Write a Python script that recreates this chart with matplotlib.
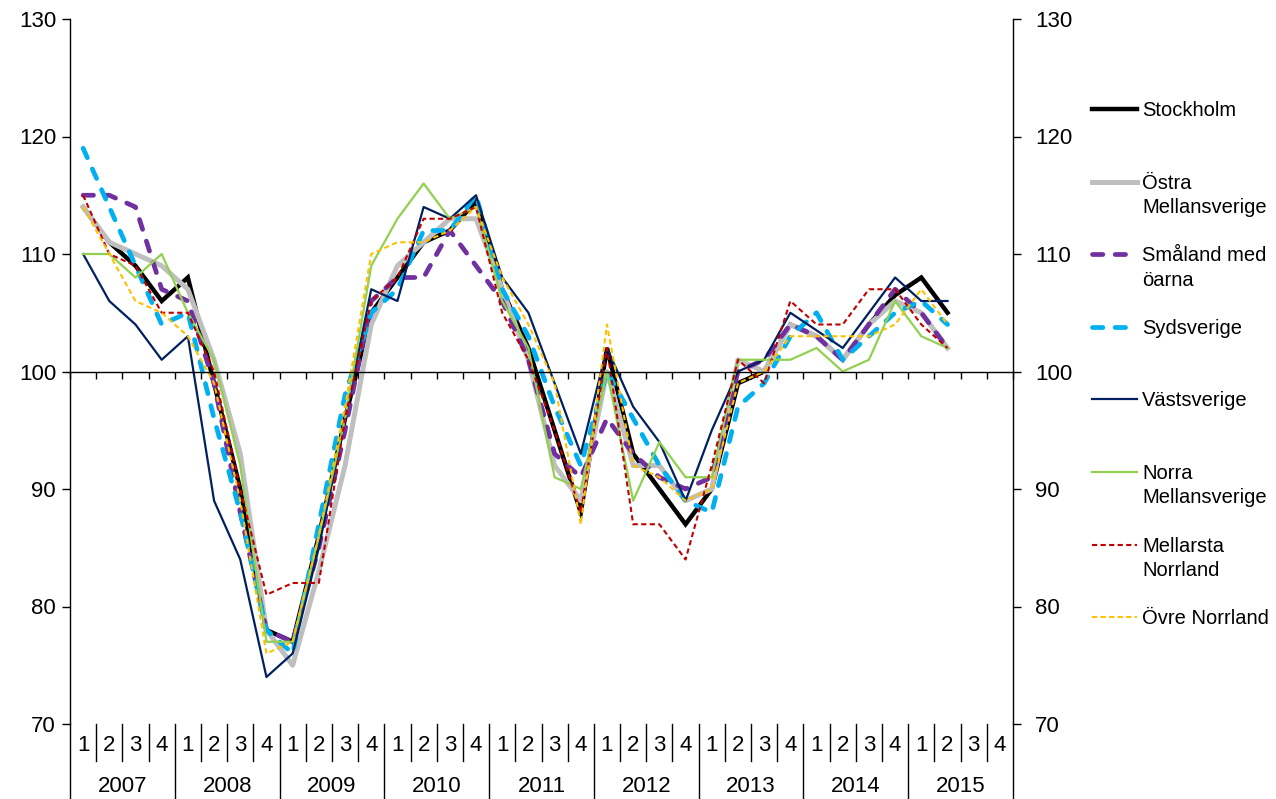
import matplotlib.pyplot as plt
from matplotlib.lines import Line2D
import numpy as np

plt.rcParams['font.family'] = ['Liberation Sans', 'DejaVu Sans']

years = ['2007', '2008', '2009', '2010', '2011', '2012', '2013', '2014', '2015']
quarters = ['1', '2', '3', '4']

stockholm = [114, 111, 109, 106, 108, 99, 90, 78, 77, 86, 96, 105,
             108, 111, 112, 114.5, 107, 102, 95, 88, 102, 93, 90, 87,
             90, 99, 100, 104, 103, 101, 104, 106.5, 108, 105]
ostra = [114, 111, 110, 109, 107, 101, 93, 78, 75, 83, 92, 104,
         109, 111, 113, 113, 107, 101, 92, 89, 100, 92, 92, 89,
         90, 101, 100, 104, 103, 101, 104, 106, 105, 102]
smaland = [115, 115, 114, 107, 106, 99, 88, 78, 77, 85, 95, 106,
           108, 108, 112, 109, 106, 101, 93, 91, 96, 93, 91, 90,
           91, 100, 101, 104, 103, 101, 104, 107, 105, 102]
syd = [119, 114, 109, 104, 105, 96, 88, 78, 76, 87, 98, 105,
       107, 112, 112, 115, 107, 103, 97, 92, 100, 96, 92, 89,
       88, 97, 99, 103, 105, 101, 103, 105, 106, 104]
vast = [110, 106, 104, 101, 103, 89, 84, 74, 76, 85, 96, 107,
        106, 114, 113, 115, 108, 105, 99, 93, 102, 97, 94, 89,
        95, 100, 101, 105, 103.5, 102, 105, 108, 106, 106]
norra = [110, 110, 108, 110, 105, 101, 92, 77, 77, 86, 96, 109,
         113, 116, 113, 114, 106, 102, 91, 90, 100, 89, 94, 91,
         91, 101, 101, 101, 102, 100, 101, 106, 103, 102]
mellersta = [115, 110, 109, 105, 105, 100, 90, 81, 82, 82, 96, 106,
             108, 113, 113, 114, 105, 101, 95, 88, 102, 87, 87, 84,
             92, 101, 99, 106, 104, 104, 107, 107, 104, 102]
ovre = [114, 110, 106, 105, 103, 99, 89, 76, 77, 86, 97, 110,
        111, 111, 112, 114, 108, 104, 99, 87, 104, 92, 91, 89,
        90, 99, 100, 103, 103, 103, 103, 104, 107, 104]

labels = ['Stockholm', 'Östra\nMellansverige', 'Småland med\nöarna', 'Sydsverige',
          'Västsverige', 'Norra\nMellansverige', 'Mellarsta\nNorrland', 'Övre Norrland']
series = [stockholm, ostra, smaland, syd, vast, norra, mellersta, ovre]
styles = [
    dict(color='#000000', lw=3.2, solid_joinstyle='miter'),
    dict(color='#BFBFBF', lw=3.6),
    dict(color='#7030A0', lw=3.4, dashes=(2.2, 2.6), dash_capstyle='round'),
    dict(color='#00B0F0', lw=3.4, dashes=(2.2, 2.6), dash_capstyle='round'),
    dict(color='#002060', lw=1.6),
    dict(color='#92D050', lw=1.6),
    dict(color='#C00000', lw=1.5, dashes=(2.5, 1.6)),
    dict(color='#FFC000', lw=1.5, dashes=(2.5, 1.6)),
]

W, H = 1276, 799
fig = plt.figure(figsize=(W / 100, H / 100), dpi=100)
ax = fig.add_axes([70 / W, 75 / H, 943 / W, 705 / H])

n_q = len(years) * len(quarters)
x = np.arange(len(stockholm)) + 0.5
for vals, st in zip(series, styles):
    ax.plot(x, vals, **st)

ax.set_xlim(0, n_q)
ax.set_ylim(70, 130)
ax.set_yticks(range(70, 131, 10))
ax.spines['top'].set_visible(False)
ax.spines['right'].set_visible(False)
ax.spines['bottom'].set_position(('data', 100))
for s in ['left', 'bottom']:
    ax.spines[s].set_linewidth(1.0)
ax.set_xticks(range(n_q + 1))
ax.tick_params(axis='x', direction='out', length=5, width=1, labelbottom=False)
ax.tick_params(axis='y', direction='out', length=6, width=1, labelsize=16, pad=4)

ax2 = ax.twinx()
ax2.set_ylim(70, 130)
ax2.set_yticks(range(70, 131, 10))
for s in ['top', 'left', 'bottom']:
    ax2.spines[s].set_visible(False)
ax2.spines['right'].set_linewidth(1.0)
ax2.tick_params(axis='y', direction='out', length=6, width=1, labelsize=16, pad=10)

# category axis below the plot
tr = ax.get_xaxis_transform()
for j, yr in enumerate(years):
    for q, ql in enumerate(quarters):
        k = j * len(quarters) + q
        ax.text(k + 0.5, -0.03, ql, transform=tr, ha='center', va='center', fontsize=16)
        if q > 0:
            ax.plot([k, k], [0, -0.052], transform=tr, color='black', lw=1, clip_on=False)
    ax.text(j * 4 + 2, -0.088, yr, transform=tr, ha='center', va='center', fontsize=16)
for j in range(len(years) + 1):
    ax.plot([j * 4, j * 4], [0, -0.11], transform=tr, color='black', lw=1, clip_on=False)

# legend on the right
for i, (lab, st) in enumerate(zip(labels, styles)):
    y_px = 109 + i * 72.6
    yf = 1 - y_px / H
    fig.add_artist(Line2D([1092 / W, 1137 / W], [yf, yf], **st))
    for li, line in enumerate(lab.split('\n')):
        yb = 1 - (y_px + 7 + li * 24.5) / H
        fig.text(1142 / W, yb, line, ha='left', va='baseline', fontsize=14.5)

fig.savefig('out.png', dpi=100)
